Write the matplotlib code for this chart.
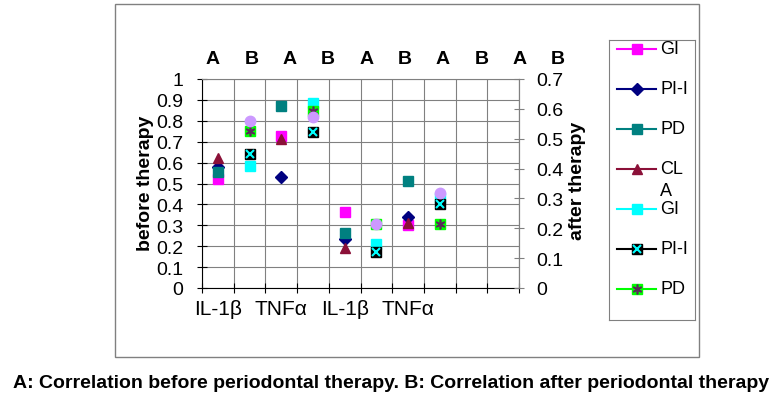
"""
Correlation chart: periodontal parameters vs IL-1b / TNFa, before and after therapy.
"""

import matplotlib

matplotlib.use("Agg")
import matplotlib.pyplot as plt  # noqa: E402
import numpy as np
from matplotlib.patches import Rectangle

plt.rcParams["font.family"] = ["Liberation Sans", "DejaVu Sans"]

# bottom category axis: 10 slots, Excel only printed every other label
categories = ["IL-1β", "", "TNFα", "", "IL-1β", "", "TNFα", "", "", ""]
top_labels = ["A", "B", "A", "B", "A", "B", "A", "B", "A", "B"]
before_pos = [0, 2, 4, 6]
after_pos = [1, 3, 5, 7]

# before therapy (left axis)
gi_before = [0.52, 0.725, 0.363, 0.30]
pli_before = [0.58, 0.533, 0.236, 0.339]
pd_before = [0.557, 0.873, 0.263, 0.51]
cla_before = [0.62, 0.713, 0.193, 0.31]

# after therapy (right axis)
gi_after = [0.41, 0.62, 0.148, 0.30]
pli_after = [0.449, 0.522, 0.12, 0.282]
pd_after = [0.525, 0.594, 0.213, 0.215]
cla_after = [0.561, 0.572, 0.215, 0.319]

legend_labels = ["GI", "PI-I", "PD", "CL\nA", "GI", "PI-I", "PD"]
caption = ("A: Correlation before periodontal therapy. "
           "B: Correlation after periodontal therapy")

W, H = 782, 410
GRID = "#808080"
MAROON = "#8B1038"
ASTER = (6, 2, 0)


def fx(px):
    return px / W


def fy(py):
    return 1 - py / H


fig = plt.figure(figsize=(W / 100, H / 100), dpi=100)

# outer chart border
fig.add_artist(Rectangle((fx(115), fy(358)), (699 - 115) / W, (358 - 5) / H,
                         transform=fig.transFigure, fill=False,
                         edgecolor=GRID, linewidth=1))

ax = fig.add_axes([fx(202), fy(289), 317 / W, 209 / H])
ax2 = ax.twinx()

xb = np.array(before_pos) + 0.5
xa = np.array(after_pos) + 0.5
ms = 7.5

ax.plot(xb, gi_before, ls="none", marker="s", ms=ms, color="#FF00FF")
ax.plot(xb, pli_before, ls="none", marker="D", ms=6, color="#000080")
ax.plot(xb, pd_before, ls="none", marker="s", ms=ms, color="#008080")
ax.plot(xb, cla_before, ls="none", marker="^", ms=ms, color=MAROON)

ax2.plot(xa, gi_after, ls="none", marker="s", ms=ms, color="#00FFFF")
ax2.plot(xa, pli_after, ls="none", marker="s", ms=ms, color="black")
ax2.plot(xa, pli_after, ls="none", marker="x", ms=6, mew=1.5, color="#00FFFF")
ax2.plot(xa, pd_after, ls="none", marker="s", ms=ms, color="#00FF00")
ax2.plot(xa, pd_after, ls="none", marker=ASTER, ms=7, mew=1.2, color="#5A2D5A")
ax2.plot(xa, cla_after, ls="none", marker="o", ms=ms, color="#CC99FF")

ax.set_xlim(0, len(categories))
ax.set_ylim(0, 1)
ax2.set_ylim(0, 0.7)

ax.set_xticks(np.arange(len(categories) + 1))
ax.set_xticklabels([])
ax.set_xticks(np.arange(len(categories)) + 0.5, minor=True)
ax.set_xticklabels(categories, minor=True, fontsize=15)

left_ticks = np.round(np.arange(0, 1.01, 0.1), 1)
ax.set_yticks(left_ticks)
ax.set_yticklabels([f"{v:g}" for v in left_ticks], fontsize=14)
right_ticks = np.round(np.arange(0, 0.71, 0.1), 1)
ax2.set_yticks(right_ticks)
ax2.set_yticklabels([f"{v:g}" for v in right_ticks], fontsize=14)

ax.grid(True, which="major", color=GRID, linewidth=0.8)
ax.set_axisbelow(True)

ax.tick_params(axis="x", which="major", direction="inout", length=7,
               color="black")
ax.tick_params(axis="x", which="minor", length=0, pad=8)
ax.tick_params(axis="y", direction="inout", length=7, pad=10, color="black")
ax2.tick_params(axis="y", direction="inout", length=7, pad=9, color=GRID)

for side in ("left", "bottom"):
    ax.spines[side].set_color("black")
for side in ("top", "right"):
    ax.spines[side].set_color(GRID)
for side in ("left", "bottom", "top"):
    ax2.spines[side].set_visible(False)
ax2.spines["right"].set_color(GRID)

# top A/B row, axis titles
for x, lab in zip(np.linspace(213, 558, len(top_labels)), top_labels):
    fig.text(fx(x), fy(60), lab, ha="center", va="center",
             fontsize=14, fontweight="bold")
fig.text(fx(146), fy(183.5), "before therapy", rotation=90, ha="center",
         va="center", fontsize=14, fontweight="bold")
fig.text(fx(578), fy(181), "after therapy", rotation=90, ha="center",
         va="center", fontsize=14, fontweight="bold")

# legend box, laid out by hand like the Excel one
lax = fig.add_axes([fx(609), fy(321), 86 / W, 280 / H])
lax.set_xlim(609, 695)
lax.set_ylim(321, 41)
lax.set_xticks([])
lax.set_yticks([])
for sp in lax.spines.values():
    sp.set_color(GRID)

legend_styles = [
    [dict(marker="s", ms=ms, color="#FF00FF")],
    [dict(marker="D", ms=6, color="#000080")],
    [dict(marker="s", ms=ms, color="#008080")],
    [dict(marker="^", ms=ms, color=MAROON)],
    [dict(marker="s", ms=ms, color="#00FFFF")],
    [dict(marker="s", ms=ms, color="black"),
     dict(marker="x", ms=6, mew=1.5, color="#00FFFF")],
    [dict(marker="s", ms=ms, color="#00FF00"),
     dict(marker=ASTER, ms=7, mew=1.2, color="#5A2D5A")],
]
entry_y = 50 + 40 * np.arange(len(legend_labels))
for y, lab, styles in zip(entry_y, legend_labels, legend_styles):
    lax.plot([617, 656], [y, y], color=styles[0]["color"], linewidth=1.5)
    for st in styles:
        lax.plot([636.5], [y], ls="none", **st)
    for k, line in enumerate(lab.split("\n")):
        lax.text(660, y + 22 * k, line, ha="left", va="center", fontsize=13)

fig.text(0.5, fy(384), caption, ha="center", va="center",
         fontsize=14, fontweight="bold")

fig.savefig("out.png", dpi=100)
plt.close(fig)
